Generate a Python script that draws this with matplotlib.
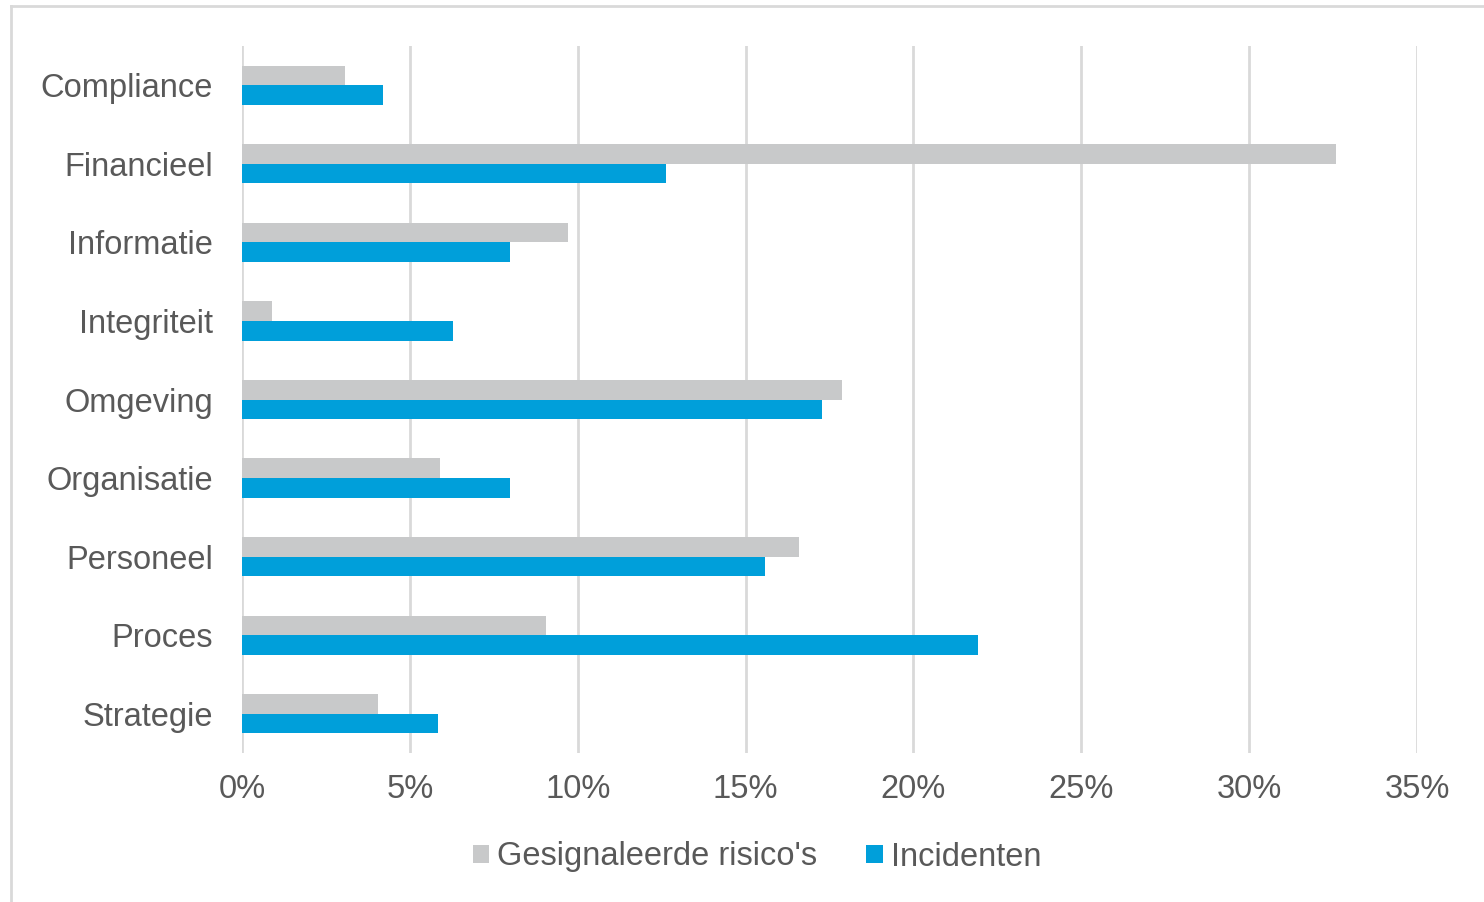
import matplotlib
matplotlib.use("Agg")
import matplotlib.pyplot as plt
from matplotlib.lines import Line2D
from matplotlib.patches import Patch
import numpy as np

categories = ["Compliance", "Financieel", "Informatie", "Integriteit", "Omgeving",
              "Organisatie", "Personeel", "Proces", "Strategie"]
risicos = [3.07, 32.6, 9.7, 0.9, 17.87, 5.9, 16.6, 9.06, 4.05]
incidenten = [4.2, 12.63, 7.98, 6.28, 17.28, 7.98, 15.58, 21.92, 5.84]
xticks = [0, 5, 10, 15, 20, 25, 30, 35]
series_names = ["Gesignaleerde risico's", "Incidenten"]

gray = "#c8c9ca"
blue = "#009fda"
txt = "#595959"

plt.rcParams['font.family'] = ['Liberation Sans', 'DejaVu Sans']

W, H = 1484, 902
fig = plt.figure(figsize=(W / 100, H / 100), dpi=100)
ax = fig.add_axes([242 / W, 1 - 753 / H, (1417 - 242) / W, (753 - 46) / H])

y = np.arange(len(categories))
bh = 0.25
ax.barh(y - bh / 2, risicos, height=bh, color=gray, zorder=3)
ax.barh(y + bh / 2, incidenten, height=bh, color=blue, zorder=3)

ax.set_xlim(0, 35)
ax.set_ylim(len(categories) - 0.5, -0.5)
ax.set_xticks(xticks)
ax.set_xticklabels([f"{v}%" for v in xticks], fontsize=23.5, color=txt)
ax.set_yticks(y)
ax.set_yticklabels(categories, fontsize=23.5, color=txt)
ax.tick_params(axis='both', length=0)
ax.tick_params(axis='x', pad=15)
ax.tick_params(axis='y', pad=21)
ax.xaxis.grid(True, color="#d9d9d9", linewidth=2, zorder=0)
for s in ax.spines.values():
    s.set_visible(False)

handles = [Patch(facecolor=gray, label=series_names[0]),
           Patch(facecolor=blue, label=series_names[1])]
fig.legend(handles=handles, loc='center', bbox_to_anchor=(757 / W, 1 - 857 / H),
           ncol=2, frameon=False, fontsize=23.5, handlelength=0.5, handleheight=0.5,
           handletextpad=0.25, columnspacing=1.5, labelcolor=txt)

# outer border (left and top visible)
fig.add_artist(Line2D([11 / W, 11 / W], [0, 1 - 6 / H], transform=fig.transFigure,
                      color="#d9d9d9", linewidth=2))
fig.add_artist(Line2D([11 / W, 1], [1 - 6 / H, 1 - 6 / H], transform=fig.transFigure,
                      color="#d9d9d9", linewidth=2))

fig.savefig("out.png", dpi=100)
